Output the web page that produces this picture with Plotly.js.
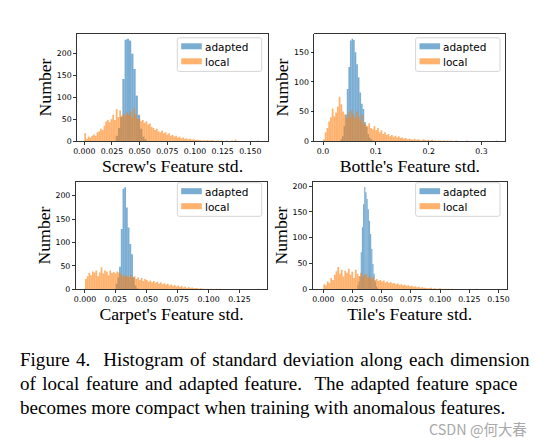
<!DOCTYPE html>
<html>
<head>
<meta charset="utf-8">
<script src="https://cdn.plot.ly/plotly-3.0.1.min.js"></script>
<style>
html,body{margin:0;padding:0;background:#fff;}
#chart{width:555px;height:444px;}
</style>
</head>
<body>
<div id="chart"></div>
<script>
// ---------------- DATA ----------------
// Screw
const screwAdaptedStart = 0.0294, screwAdaptedStep = 0.002;
const screwAdapted = [12, 30, 55, 142, 232, 234, 230, 200, 165, 104, 60, 28, 10, 4];
const screwLocalStart = 0.00079, screwLocalStep = 0.00158;
const screwLocal = [
  18, 5, 10, 8, 12, 15, 12, 20, 22, 28,
  25, 35, 45, 48, 43, 50, 60, 48, 73, 55,
  70, 58, 62, 57, 65, 60, 68, 55, 75, 62,
  50, 52, 45, 48, 42, 45, 38, 40, 32, 30,
  25, 28, 22, 20, 24, 18, 20, 15, 18, 12,
  14, 10, 12, 8, 10, 6, 8, 5, 6, 4,
  5, 3, 4, 2, 3, 2, 2, 1, 2, 1,
  2, 1, 1, 2, 0, 1, 1, 0, 1, 0,
  0, 1, 0, 0, 1, 0, 3, 0, 0, 0,
  0, 0, 0, 0, 0, 0, 0, 0, 0, 1
];
// Bottle
const bottleAdaptedStart = 0.0345, bottleAdaptedStep = 0.003;
const bottleAdapted = [3, 8, 25, 45, 88, 125, 170, 173, 171, 150, 130, 108, 82, 63, 54, 32, 24, 12, 6, 3, 1];
const bottleLocalStart = 0.00165, bottleLocalStep = 0.0033;
const bottleLocal = [
  3, 15, 22, 33, 40, 55, 42, 48, 58, 75,
  62, 50, 45, 38, 48, 40, 52, 45, 38, 50,
  42, 35, 45, 30, 28, 25, 30, 22, 20, 25,
  18, 22, 15, 18, 12, 15, 10, 12, 8, 10,
  7, 9, 6, 8, 5, 6, 4, 5, 3, 4,
  3, 2, 4, 2, 3, 2, 1, 3, 2, 1,
  2, 1, 2, 1, 1, 0, 1, 1, 0, 1,
  0, 1, 0, 1, 0, 0, 1, 0, 0, 0,
  0, 0, 1, 0, 0, 0, 0, 0, 0, 0,
  0, 0, 0, 0, 0, 0, 0, 0, 0, 1
];
// Carpet
const carpetAdaptedStart = 0.0255, carpetAdaptedStep = 0.0014;
const carpetAdapted = [12, 25, 48, 129, 215, 218, 175, 132, 97, 75, 26, 8, 2];
const carpetLocalStart = 0.000705, carpetLocalStep = 0.00141;
const carpetLocal = [
  22, 28, 35, 30, 38, 36, 40, 28, 36, 47,
  34, 40, 38, 30, 40, 35, 37, 34, 38, 36,
  33, 28, 30, 27, 29, 26, 30, 25, 28, 22,
  25, 20, 24, 18, 22, 20, 16, 19, 15, 18,
  14, 16, 12, 15, 11, 13, 10, 12, 8, 10,
  7, 9, 6, 8, 5, 7, 4, 6, 3, 5,
  3, 4, 2, 3, 2, 1, 2, 1, 1, 0,
  1, 0, 1, 0, 0, 1, 0, 1, 0, 0,
  0, 0, 0, 0, 0, 0, 0, 0, 0, 0,
  0, 0, 0, 0, 0, 0, 0, 0, 0, 1
];
// Tile
const tileAdaptedStart = 0.0295, tileAdaptedStep = 0.001;
const tileAdapted = [8, 15, 25, 72, 120, 165, 198, 188, 175, 155, 133, 107, 78, 49, 30, 15, 6, 2];
const tileLocalStart = 0.00075, tileLocalStep = 0.0015;
const tileLocal = [
  10, 8, 15, 12, 22, 18, 28, 35, 43, 30,
  38, 25, 36, 32, 40, 28, 34, 22, 38, 30,
  26, 32, 24, 28, 30, 22, 25, 20, 24, 18,
  20, 16, 18, 15, 17, 13, 15, 12, 14, 11,
  12, 10, 11, 9, 10, 8, 9, 7, 8, 6,
  7, 5, 6, 4, 5, 3, 4, 3, 3, 2,
  2, 3, 1, 2, 1, 1, 2, 1, 0, 1,
  0, 1, 0, 1, 0, 0, 0, 0, 0, 0,
  0, 0, 0, 0, 0, 0, 0, 1, 0, 0,
  0, 0, 0, 0, 0, 0, 0, 0, 0, 0
];

// ticks
const xTicks3 = [0, 0.025, 0.05, 0.075, 0.1, 0.125, 0.15];
const xTicksBottle = [0, 0.1, 0.2, 0.3];
const yTicks = [0, 50, 100, 150, 200];
const xTitles = ["Screw's Feature std.", "Bottle's Feature std.", "Carpet's Feature std.", "Tile's Feature std."];
const seriesNames = ["adapted", "local"];

// ---------------- LAYOUT HELPERS ----------------
const W = 555, H = 444;
const px = x => x / W;
const py = y => 1 - y / H;

const boxes = [
  {l: 77, r: 268, t: 34, b: 141, xr: [-0.0066, 0.166], yr: [0, 245], xt: xTicks3, xf: '.3f'},
  {l: 314.3, r: 505.3, t: 34, b: 141, xr: [-0.0165, 0.345], yr: [0, 181], xt: xTicksBottle, xf: '.1f'},
  {l: 75.7, r: 267.3, t: 181.7, b: 289.3, xr: [-0.0075, 0.1475], yr: [0, 230], xt: xTicks3.slice(0, 6), xf: '.3f'},
  {l: 312.7, r: 506.7, t: 181.7, b: 289.3, xr: [-0.0091, 0.157], yr: [0, 208.5], xt: xTicks3, xf: '.3f'}
];
const legendBoxes = [
  {r: 261.7, t: 37.8},
  {r: 500, t: 37.8},
  {r: 261.7, t: 182.7},
  {r: 500, t: 182.7}
];

const blue = 'rgba(31,119,180,0.6)';
const orange = 'rgba(255,127,14,0.6)';

const hist = [
  [screwAdaptedStart, screwAdaptedStep, screwAdapted, screwLocalStart, screwLocalStep, screwLocal],
  [bottleAdaptedStart, bottleAdaptedStep, bottleAdapted, bottleLocalStart, bottleLocalStep, bottleLocal],
  [carpetAdaptedStart, carpetAdaptedStep, carpetAdapted, carpetLocalStart, carpetLocalStep, carpetLocal],
  [tileAdaptedStart, tileAdaptedStep, tileAdapted, tileLocalStart, tileLocalStep, tileLocal]
];

const traces = [];
const layout = {
  width: W, height: H,
  margin: {l: 0, r: 0, t: 0, b: 0},
  paper_bgcolor: '#fff', plot_bgcolor: '#fff',
  barmode: 'overlay',
  showlegend: false,
  shapes: [], annotations: []
};

const tickFont = {family: 'DejaVu Sans', size: 7.8, color: '#000'};
const titleFont = {family: 'Liberation Serif', size: 17.7, color: '#000'};

hist.forEach((h, i) => {
  const s = i === 0 ? '' : String(i + 1);
  const b = boxes[i];
  traces.push({
    type: 'bar', name: seriesNames[0], x0: h[0], dx: h[1], y: h[2], width: h[1],
    marker: {color: blue, line: {width: 0}}, xaxis: 'x' + s, yaxis: 'y' + s, hoverinfo: 'skip'
  });
  traces.push({
    type: 'bar', name: seriesNames[1], x0: h[3], dx: h[4], y: h[5], width: h[4],
    marker: {color: orange, line: {width: 0}}, xaxis: 'x' + s, yaxis: 'y' + s, hoverinfo: 'skip'
  });
  const common = {
    showline: true, mirror: true, linecolor: '#000', linewidth: 0.8,
    ticks: 'outside', ticklen: 3, tickwidth: 0.8, tickcolor: '#000',
    showgrid: false, zeroline: false, tickfont: tickFont, automargin: false, fixedrange: true
  };
  layout['xaxis' + s] = Object.assign({}, common, {
    domain: [px(b.l), px(b.r)], range: b.xr, anchor: 'y' + s,
    tickmode: 'array', tickvals: b.xt, tickformat: b.xf,
    title: {text: xTitles[i], font: titleFont, standoff: 1}
  });
  layout['yaxis' + s] = Object.assign({}, common, {
    domain: [py(b.b), py(b.t)], range: b.yr, anchor: 'x' + s,
    tickmode: 'array', tickvals: yTicks.filter(v => v <= b.yr[1]),
    title: {text: 'Number', font: titleFont, standoff: 0}
  });

  // legend (drawn box + patches + labels)
  const lb = legendBoxes[i];
  const lw = 84.4, lh = 33.6, l = lb.r - lw, t = lb.t, rr = 2;
  const X = v => px(v), Y = v => py(v);
  layout.shapes.push({
    type: 'path', xref: 'paper', yref: 'paper',
    path: `M${X(l + rr)},${Y(t)} L${X(l + lw - rr)},${Y(t)} Q${X(l + lw)},${Y(t)} ${X(l + lw)},${Y(t + rr)} ` +
          `L${X(l + lw)},${Y(t + lh - rr)} Q${X(l + lw)},${Y(t + lh)} ${X(l + lw - rr)},${Y(t + lh)} ` +
          `L${X(l + rr)},${Y(t + lh)} Q${X(l)},${Y(t + lh)} ${X(l)},${Y(t + lh - rr)} ` +
          `L${X(l)},${Y(t + rr)} Q${X(l)},${Y(t)} ${X(l + rr)},${Y(t)} Z`,
    line: {color: '#d5d5d5', width: 1}, fillcolor: 'rgba(255,255,255,0.8)', layer: 'above'
  });
  [[blue, 5.5], [orange, 20.5]].forEach((p, k) => {
    layout.shapes.push({
      type: 'rect', xref: 'paper', yref: 'paper', layer: 'above',
      x0: X(l + 3.9), x1: X(l + 24.5), y0: Y(t + p[1]), y1: Y(t + p[1] + 6),
      line: {width: 0}, fillcolor: p[0]
    });
    layout.annotations.push({
      text: seriesNames[k], xref: 'paper', yref: 'paper', showarrow: false,
      x: X(l + 25.5), y: Y(t + p[1] + 4), xanchor: 'left', yanchor: 'middle',
      font: {family: 'DejaVu Sans', size: 10.5, color: '#000'}
    });
  });
});

// caption
const captionLines = [
  'Figure 4.&nbsp; Histogram of standard deviation along each dimension',
  'of local feature and adapted feature.&nbsp; The adapted feature space',
  'becomes more compact when training with anomalous features.'
];
const captionWordSpacing = [1.65, 1.65, 0];
const captionY = [359, 383, 407];
captionLines.forEach((txt, k) => {
  layout.annotations.push({
    text: captionWordSpacing[k] ? `<span style="word-spacing:${captionWordSpacing[k]}px">${txt}</span>` : txt,
    xref: 'paper', yref: 'paper', showarrow: false,
    x: px(18), y: py(captionY[k]), xanchor: 'left', yanchor: 'middle',
    font: {family: 'Liberation Serif', size: 19.05, color: '#000'}
  });
});
layout.annotations.push({
  text: 'CSDN @何大春', xref: 'paper', yref: 'paper', showarrow: false,
  x: px(529), y: py(428), xanchor: 'right', yanchor: 'middle',
  font: {family: 'Noto Sans CJK SC', size: 14.4, color: '#a8a8a8'}
});

Plotly.newPlot('chart', traces, layout, {staticPlot: true, displayModeBar: false});
</script>
</body>
</html>
